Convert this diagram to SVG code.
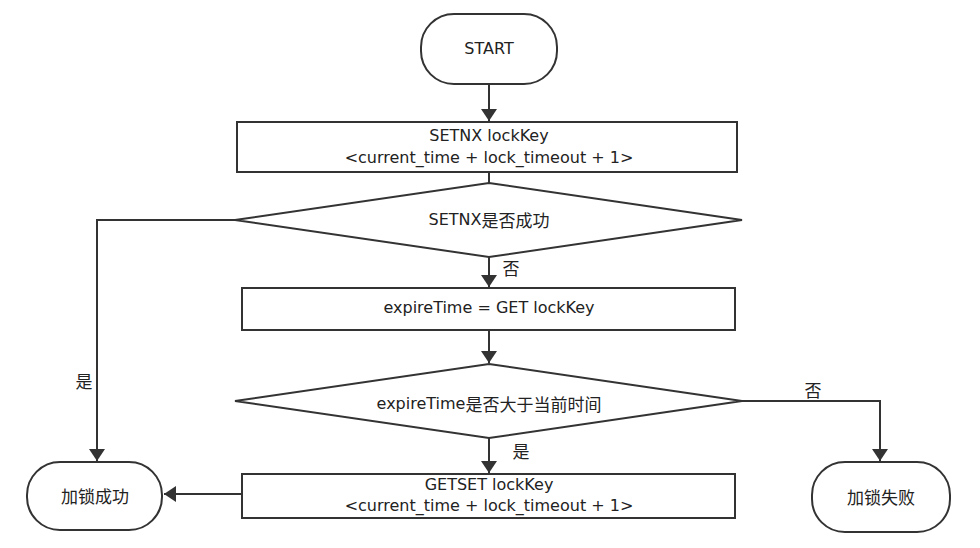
<svg xmlns="http://www.w3.org/2000/svg" width="980" height="548" viewBox="0 0 980 548">
<style>
.n{fill:#fff;stroke:#333;stroke-width:2}
.c{fill:none;stroke:#333;stroke-width:2}
text{font-family:"DejaVu Sans","Noto Sans CJK SC",sans-serif;font-size:16px;fill:#222;text-anchor:middle;dominant-baseline:central}
.z{font-family:"Noto Sans CJK SC",sans-serif;font-size:17px}
</style>
<defs>
<marker id="a" viewBox="0 0 12 16" refX="12" refY="8" markerWidth="12" markerHeight="16" markerUnits="userSpaceOnUse" orient="auto">
<path d="M0,0L12,8L0,16z" fill="#333"/>
</marker>
</defs>
<rect width="980" height="548" fill="#fff"/>
<g id="connectors">
<path class="c" d="M489,84V121" marker-end="url(#a)"/>
<path class="c" d="M489,172V183"/>
<path class="c" d="M235,220H97V461" marker-end="url(#a)"/>
<path class="c" d="M489,257V287" marker-end="url(#a)"/>
<path class="c" d="M489,330V363" marker-end="url(#a)"/>
<path class="c" d="M742,401H880V461" marker-end="url(#a)"/>
<path class="c" d="M489,438V473" marker-end="url(#a)"/>
<path class="c" d="M242,494H164" marker-end="url(#a)"/>
<text class="z" x="84" y="380">是</text>
<text class="z" x="511" y="267">否</text>
<text class="z" x="813" y="389">否</text>
<text class="z" x="521" y="450">是</text>
</g>
<g id="start">
<rect class="n" x="421" y="14" width="136" height="70" rx="33"/>
<text x="489" y="48">START</text>
</g>
<g id="setnx">
<rect class="n" x="237" y="122" width="500" height="50"/>
<text x="489" y="135">SETNX lockKey</text>
<text x="489" y="157">&lt;current_time + lock_timeout + 1&gt;</text>
</g>
<g id="check1">
<path class="n" d="M489,183L742,220L489,257L235,220z"/>
<text x="489" y="219">SETNX<tspan class="z">是否成功</tspan></text>
</g>
<g id="get">
<rect class="n" x="242" y="288" width="493" height="42"/>
<text x="489" y="307">expireTime = GET lockKey</text>
</g>
<g id="check2">
<path class="n" d="M489,364L742,401L489,438L235,401z"/>
<text x="489" y="403">expireTime<tspan class="z">是否大于当前时间</tspan></text>
</g>
<g id="getset">
<rect class="n" x="242" y="474" width="493" height="44"/>
<text x="489" y="484">GETSET lockKey</text>
<text x="489" y="505">&lt;current_time + lock_timeout + 1&gt;</text>
</g>
<g id="success">
<rect class="n" x="27" y="462" width="135" height="68" rx="33"/>
<text class="z" x="95" y="495">加锁成功</text>
</g>
<g id="fail">
<rect class="n" x="812" y="462" width="138" height="70" rx="33"/>
<text class="z" x="881" y="496">加锁失败</text>
</g>
</svg>
